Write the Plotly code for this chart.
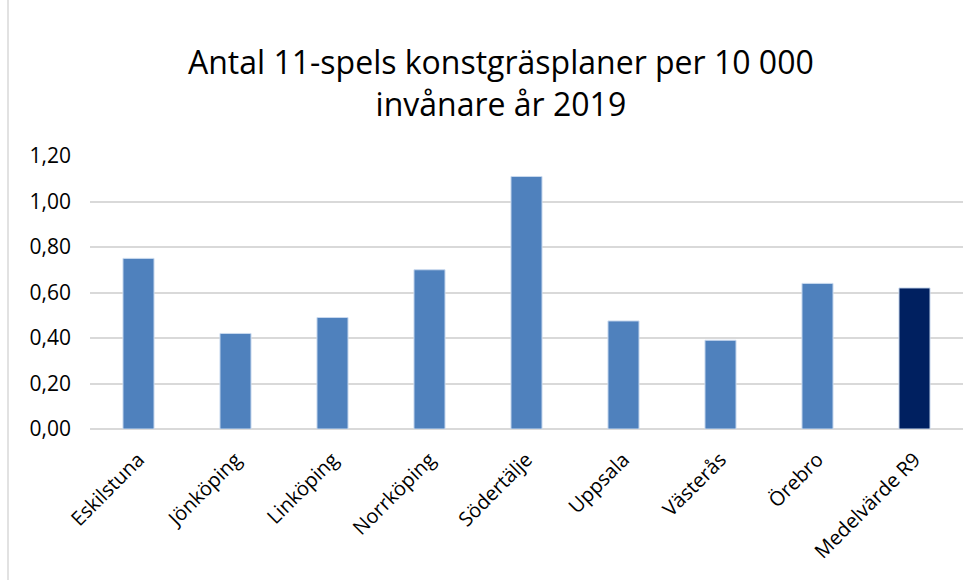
import plotly.graph_objects as go

categories = ["Eskilstuna", "Jönköping", "Linköping", "Norrköping", "Södertälje",
              "Uppsala", "Västerås", "Örebro", "Medelvärde R9"]
values = [0.75, 0.42, 0.49, 0.70, 1.11, 0.475, 0.39, 0.64, 0.62]
colors = ["#4f81bd"] * 8 + ["#002060"]
tick_vals = [0, 0.2, 0.4, 0.6, 0.8, 1.0, 1.2]
title_text = "Antal 11-spels konstgräsplaner per 10 000<br>invånare år 2019"

fig = go.Figure(go.Bar(
    x=categories, y=values, marker_color=colors,
    marker_line_color="#c9d9ee", marker_line_width=1, width=0.32,
))

font_family = "Open Sans, Liberation Sans, sans-serif"
fig.update_layout(
    width=979, height=580,
    margin=dict(l=90, r=16, t=156, b=151, autoexpand=False),
    paper_bgcolor="white", plot_bgcolor="white",
    separators=", ",
    showlegend=False,
)
fig.add_annotation(text=title_text, xref="paper", yref="paper",
                   x=(501 - 90) / 873, y=1 + (156 - 38) / 273,
                   xanchor="center", yanchor="top", showarrow=False,
                   font=dict(family=font_family, size=32, color="#000000"))
fig.update_yaxes(range=[0, 1.2], tickvals=tick_vals, tickformat=".2f",
                 showgrid=True, gridcolor="#d9d9d9", gridwidth=1.5,
                 zeroline=True, zerolinecolor="#d9d9d9", zerolinewidth=1.5,
                 tickfont=dict(family=font_family, size=21, color="#000000"),
                 ticks="", ticklabelstandoff=18, showline=False, automargin=False)
fig.update_xaxes(tickangle=-45, tickfont=dict(family=font_family, size=20, color="#000000"),
                 showline=False, ticks="", ticklabelstandoff=14, automargin=False)
fig.add_shape(type="line", xref="paper", yref="paper",
              x0=-82/873, x1=-82/873, y0=-151/273, y1=1 + 156/273,
              line=dict(color="#d9d9d9", width=1.5))
fig.write_html("out.html", config={"displayModeBar": False},
               post_script="document.body.style.margin='0';document.body.style.overflow='hidden';")
